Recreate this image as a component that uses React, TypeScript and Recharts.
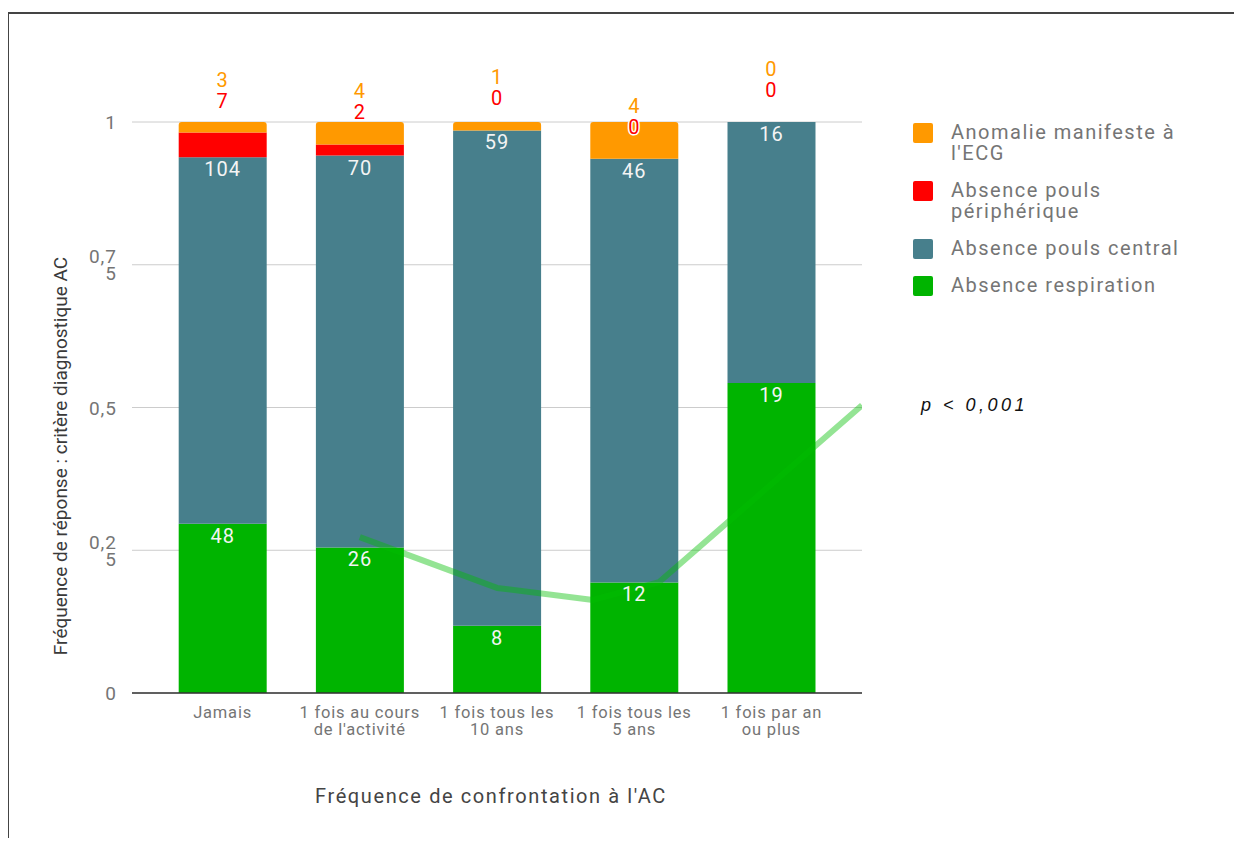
import React from 'react';
import { ComposedChart, Bar, Line, XAxis, YAxis, CartesianGrid, LabelList, Legend, Label } from 'recharts';

const categories = [
  'Jamais',
  "1 fois au cours\nde l'activité",
  '1 fois tous les\n10 ans',
  '1 fois tous les\n5 ans',
  '1 fois par an\nou plus',
];
const respiration = [48, 26, 8, 12, 19];
const poulsCentral = [104, 70, 59, 46, 16];
const poulsPeripherique = [7, 2, 0, 0, 0];
const anomalieEcg = [3, 4, 1, 4, 0];
const yTicks = [0, 0.25, 0.5, 0.75, 1];

// hand drawn trend line (x = category index, y = share)
const trendX = [1, 2, 2.7, 3.18, 4.66];
const trendY = [0.273, 0.184, 0.163, 0.194, 0.504];

const legendOrder = ['ecg', 'periph', 'central', 'resp'];

const COLORS: Record<string, string> = {
  ecg: '#ff9900',
  periph: '#ff0000',
  central: '#477f8c',
  resp: '#00b400',
};

const GREY = '#757575';

const XTick = ({ x, y, payload }: any) => {
  const lines = String(payload.value).split('\n');
  return (
    <text x={x} y={y} textAnchor="middle" fill={GREY} fontSize={16.5} letterSpacing={0.8} dominantBaseline="central">
      {lines.map((l, i) => (
        <tspan key={i} x={x} y={y + 11 + i * 17}>{l}</tspan>
      ))}
    </text>
  );
};

const YTick = ({ x, y, payload }: any) => {
  const s = String(payload.value).replace('.', ',');
  const lines = s.length > 3 ? [s.slice(0, 3), s.slice(3)] : [s];
  return (
    <text x={x} y={y} textAnchor="end" fill={GREY} fontSize={19} letterSpacing={1} dominantBaseline="central">
      {lines.map((l, i) => (
        <tspan key={i} x={x} y={y + (i - (lines.length - 1) / 2) * 17}>{l}</tspan>
      ))}
    </text>
  );
};

const InsideLabel = (props: any) => {
  const { x, y, width, value } = props;
  return (
    <text x={x + width / 2} y={y + 12} textAnchor="middle" dominantBaseline="central" fill="#f4f4f4" fontSize={20} letterSpacing={1}>
      {value}
    </text>
  );
};

// labels of the two small top segments, placed from the full-height bar of each category
const TopLabels = (props: any) => {
  const { x, y, width, height, index } = props;
  if (index == null) return null;
  const total = respiration[index] + poulsCentral[index] + poulsPeripherique[index] + anomalieEcg[index];
  const bottom = y + height;
  const periphTop = bottom - ((respiration[index] + poulsCentral[index] + poulsPeripherique[index]) / total) * height;
  const cx = x + width / 2;
  const common = {
    x: cx,
    textAnchor: 'middle' as const,
    dominantBaseline: 'central' as const,
    fontSize: 20,
    letterSpacing: 1,
    stroke: '#fff',
    strokeWidth: 3,
    paintOrder: 'stroke' as const,
  };
  return (
    <g>
      <text {...common} y={periphTop - 32} fill={COLORS.periph}>{poulsPeripherique[index]}</text>
      <text {...common} y={periphTop - 53} fill={COLORS.ecg}>{anomalieEcg[index]}</text>
    </g>
  );
};

const LegendContent = ({ payload }: any) => {
  const items = (payload || [])
    .filter((p: any) => legendOrder.includes(p.dataKey))
    .slice()
    .sort((a: any, b: any) => legendOrder.indexOf(a.dataKey) - legendOrder.indexOf(b.dataKey));
  return (
    <div>
      {items.map((p: any) => (
        <div key={p.dataKey} style={{ display: 'flex', alignItems: 'flex-start', marginBottom: 17 }}>
          <div style={{ width: 20, height: 20, background: p.color, borderRadius: 2, flexShrink: 0 }} />
          <div style={{ marginLeft: 18, color: GREY, fontSize: 20, letterSpacing: 1.5, lineHeight: '21px', whiteSpace: 'pre-line', marginTop: -1 }}>
            {p.value}
          </div>
        </div>
      ))}
    </div>
  );
};

export default function App() {
  const data = categories.map((cat, i) => ({
    cat,
    resp: respiration[i],
    central: poulsCentral[i],
    periph: poulsPeripherique[i],
    ecg: anomalieEcg[i],
    full: 1,
  }));
  const trend = trendX.map((x, i) => ({ x, y: trendY[i] }));

  return (
    <div style={{ position: 'relative', width: 1242, height: 838, margin: '-8px -8px 0 -8px', overflow: 'hidden', fontFamily: 'Roboto, sans-serif', background: '#fff' }}>
      {/* cut off title */}
      <div style={{ position: 'absolute', left: 10, top: 0, height: 3, width: 1200, overflow: 'hidden' }}>
        <div style={{ marginTop: -13, fontFamily: '"Liberation Sans", Arial, sans-serif', fontSize: 15, whiteSpace: 'nowrap', color: '#000' }}>
          Graphe 11 : Réponses aux critères diagnostiques de l'AC en fonction de la fréquence de confrontation à l'AC
        </div>
      </div>
      <div style={{ position: 'absolute', left: 8, top: 12, width: 1300, height: 900, borderTop: '2px solid #444', borderLeft: '1px solid #444' }} />
      <div style={{ position: 'absolute', left: 0, top: 0 }}>
        <ComposedChart
          width={1242}
          height={838}
          data={data}
          stackOffset="expand"
          barCategoryGap="18%"
          margin={{ top: 122, right: 380, bottom: 85, left: 0 }}
        >
          <CartesianGrid vertical={false} stroke="#cccccc" />
          <XAxis
            dataKey="cat"
            height={60}
            padding={{ left: 22, right: 22 }}
            axisLine={{ stroke: '#333', strokeWidth: 1.5 }}
            tickLine={false}
            tick={<XTick />}
            interval={0}
          >
            <Label
              content={({ viewBox }: any) => (
                <text x={viewBox.x + viewBox.width / 2 - 6} y={796} textAnchor="middle" dominantBaseline="central" fill="#444" fontSize={20} letterSpacing={1.6}>
                  Fréquence de confrontation à l'AC
                </text>
              )}
            />
          </XAxis>
          <XAxis xAxisId="lbl" dataKey="cat" padding={{ left: 22, right: 22 }} hide />
          <XAxis xAxisId="trend" dataKey="x" type="number" domain={[-0.66, 4.66]} allowDataOverflow hide />
          <YAxis
            width={132}
            domain={[0, 1]}
            ticks={yTicks}
            axisLine={false}
            tickLine={false}
            tickMargin={9}
            tick={<YTick />}
          >
            <Label
              content={() => (
                <text x={60} y={456} transform="rotate(-90, 60, 456)" textAnchor="middle" dominantBaseline="central" fill="#3a3a3a" fontSize={19}>
                  Fréquence de réponse : critère diagnostique AC
                </text>
              )}
            />
          </YAxis>
          <Bar dataKey="resp" name="Absence respiration" stackId="a" fill={COLORS.resp} isAnimationActive={false}>
            <LabelList dataKey="resp" content={<InsideLabel />} />
          </Bar>
          <Bar dataKey="central" name="Absence pouls central" stackId="a" fill={COLORS.central} isAnimationActive={false}>
            <LabelList dataKey="central" content={<InsideLabel />} />
          </Bar>
          <Bar dataKey="periph" name={'Absence pouls\npériphérique'} stackId="a" fill={COLORS.periph} isAnimationActive={false} />
          <Bar dataKey="ecg" name={"Anomalie manifeste à\nl'ECG"} stackId="a" fill={COLORS.ecg} radius={[3, 3, 0, 0]} isAnimationActive={false} />
          <Line
            data={trend}
            xAxisId="trend"
            dataKey="y"
            type="linear"
            stroke="#00be00"
            strokeOpacity={0.42}
            strokeWidth={6}
            strokeLinejoin="round"
            dot={false}
            legendType="none"
            isAnimationActive={false}
          />
          <Bar xAxisId="lbl" dataKey="full" stackId="b" fill="none" legendType="none" isAnimationActive={false}>
            <LabelList dataKey="full" content={<TopLabels />} />
          </Bar>
          <Legend
            layout="vertical"
            align="center"
            verticalAlign="middle"
            content={<LegendContent />}
            wrapperStyle={{ left: 913, top: 123, width: 320 }}
          />
        </ComposedChart>
      </div>
      <div style={{ position: 'absolute', left: 921, top: 392, fontFamily: '"Liberation Sans", Arial, sans-serif', fontStyle: 'italic', fontSize: 18, letterSpacing: 3.5, color: '#111', lineHeight: '26px' }}>
        p &lt; 0,001
      </div>
    </div>
  );
}
